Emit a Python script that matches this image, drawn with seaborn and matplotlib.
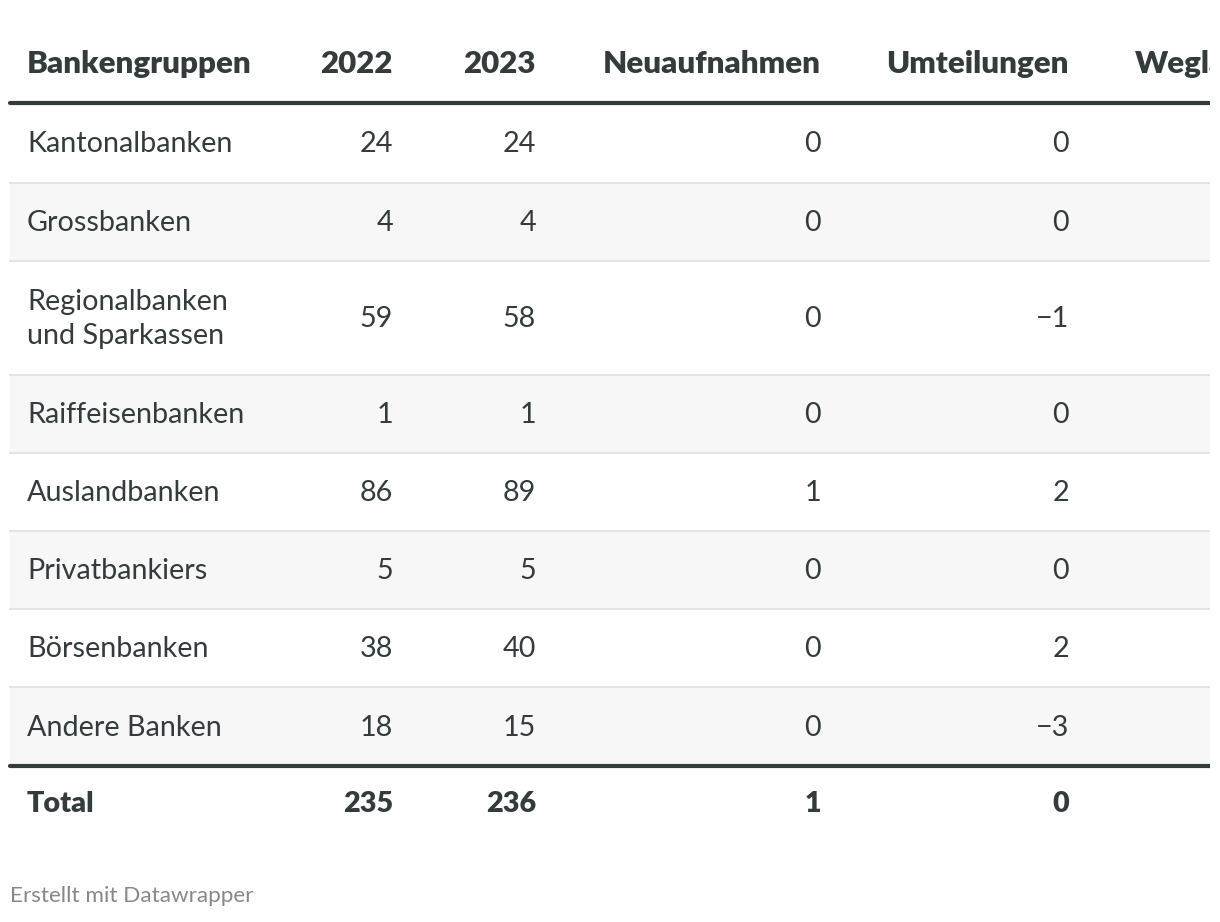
import matplotlib.pyplot as plt
import seaborn as sns

groups = ["Kantonalbanken", "Grossbanken", "Regionalbanken\nund Sparkassen",
          "Raiffeisenbanken", "Auslandbanken", "Privatbankiers",
          "Börsenbanken", "Andere Banken"]
y2022 = [24, 4, 59, 1, 86, 5, 38, 18]
y2023 = [24, 4, 58, 1, 89, 5, 40, 15]
neuaufnahmen = [0, 0, 0, 0, 1, 0, 0, 0]
umteilungen = [0, 0, -1, 0, 2, 0, 2, -3]
totals = [235, 236, 1, 0]
headers = ["Bankengruppen", "2022", "2023", "Neuaufnahmen", "Umteilungen", "Weglassungen"]

sns.set_theme(style="white")
plt.rcParams['font.family'] = ['Lato', 'DejaVu Sans']

TXT = "#333b3d"
FS = 20.7
HFS = 22.5

fig = plt.figure(figsize=(12.2, 9.22), dpi=100)
ax = fig.add_axes([0, 0, 1210 / 1220, 1])
ax.set_xlim(0, 1210)
ax.set_ylim(922, 0)
ax.axis('off')

def fmt(v):
    return f"\u2212{abs(v)}" if v < 0 else str(v)

# column anchors (pixel space)
label_x = 27
num_x = [393, 536, 821, 1069]
weg_x = 1135

# header
ax.text(label_x, 64, headers[0], ha='left', va='center', fontsize=HFS,
        fontweight='heavy', color=TXT)
for x, h in zip(num_x, headers[1:5]):
    ax.text(x, 64, h, ha='right', va='center', fontsize=HFS, fontweight='heavy', color=TXT)
ax.text(weg_x, 64, headers[5], ha='left', va='center', fontsize=HFS,
        fontweight='heavy', color=TXT, clip_on=True)

# body rows
heights = [79, 78, 114, 78, 78, 78, 78, 79]
top = 104
for i, g in enumerate(groups):
    h = heights[i]
    if i % 2 == 1:
        ax.axhspan(top, top + h, xmin=10 / 1210, xmax=1, color="#f7f7f7", lw=0, zorder=0)
    if i > 0:
        ax.plot([10, 1210], [top, top], color="#e3e3e3", lw=1.5, zorder=1, clip_on=True)
    yc = top + h / 2 + 1
    ax.text(label_x, yc, g, ha='left', va='center', fontsize=FS, color=TXT,
            linespacing=1.38)
    for x, v in zip(num_x, [y2022[i], y2023[i], neuaufnahmen[i], umteilungen[i]]):
        ax.text(x, yc, fmt(v), ha='right', va='center', fontsize=FS, color=TXT)
    top += h

# thick rules
ax.plot([10, 1210], [103, 103], color="#333b3d", lw=3, zorder=2)
ax.plot([10, 1210], [766, 766], color="#333b3d", lw=3, zorder=2)

# total row
ax.text(label_x, 804, "Total", ha='left', va='center', fontsize=FS,
        fontweight='heavy', color=TXT)
for x, v in zip(num_x, totals):
    ax.text(x, 804, fmt(v), ha='right', va='center', fontsize=FS,
            fontweight='heavy', color=TXT)

# footer
ax.text(10, 896, "Erstellt mit Datawrapper", ha='left', va='center',
        fontsize=16.2, color="#888888")

fig.savefig("out.png", dpi=100, facecolor="white")
